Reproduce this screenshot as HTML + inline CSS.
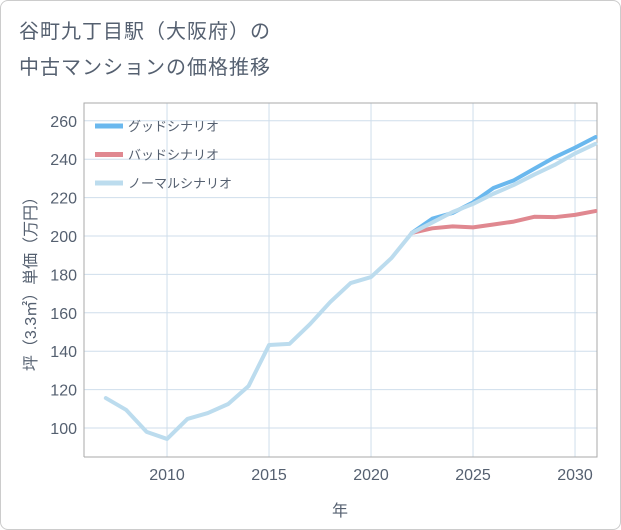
<!DOCTYPE html>
<html><head><meta charset="utf-8"><style>
body{margin:0;background:#fff;}
#wrap{position:relative;width:619px;height:528px;border:1px solid #ccc;border-radius:8px;background:#fff;font-family:"Liberation Sans","Noto Sans CJK JP",sans-serif;overflow:hidden}
.t{position:absolute;left:18px;color:#556070;font-size:20px;letter-spacing:1px}
</style></head><body>
<div id="wrap">
<div class="t" style="top:14px">谷町九丁目駅（大阪府）の</div>
<div class="t" style="top:50px">中古マンションの価格推移</div>
<svg id="svg" width="621" height="530" style="position:absolute;left:-1px;top:-1px"></svg>
</div>
<script>
const years=[2007,2008,2009,2010,2011,2012,2013,2014,2015,2016,2017,2018,2019,2020,2021,2022,2023,2024,2025,2026,2027,2028,2029,2030,2031];
const normal=[115.6,109.4,98,94.3,104.7,107.8,112.5,121.9,143.2,143.8,154,165.6,175.5,178.6,188.5,201.6,207,212.5,216.7,222,226.6,232,237,243,248];
const goodYears=[2022,2023,2024,2025,2026,2027,2028,2029,2030,2031];
const good=[201.6,209,212,217.5,225,229,235,241,246,251.5];
const bad=[201.6,204,205,204.5,206,207.5,210,209.8,211,213];
const xTicks=[2010,2015,2020,2025,2030];
const yTicks=[100,120,140,160,180,200,220,240,260];
const L=84,R=597,T=103,B=457;
const x=v=>L+(v-2005.93)*20.4;
const y=v=>428-(v-100)*1.92;
const svg=document.getElementById('svg');
const NS='http://www.w3.org/2000/svg';
const TC='#556070';
function mk(t,a,p){const e=document.createElementNS(NS,t);for(const k in a)e.setAttribute(k,a[k]);(p||svg).appendChild(e);return e;}
let g=mk('g',{});


xTicks.forEach(v=>{const l=mk('line',{x1:x(v),x2:x(v),y1:T,y2:B,stroke:'#cfdeeb','stroke-width':1},g);

const t=mk('text',{x:x(v),y:480,'text-anchor':'middle','font-size':16,fill:TC});t.textContent=v;
});
yTicks.forEach(v=>{const l=mk('line',{x1:L,x2:R,y1:y(v),y2:y(v),stroke:'#cfdeeb','stroke-width':1},g);

const t=mk('text',{x:77,y:y(v)+6,'text-anchor':'end','font-size':16,fill:TC});t.textContent=v;
});
let ax=mk('path',{d:`M${L},${B}V${T}H${R}V${B}H${L}`,fill:'none',stroke:'#aaa','stroke-width':1});

function line(xs,vs,c,n){const p=mk('path',{d:xs.map((v,i)=>(i?'L':'M')+x(v)+','+y(vs[i])).join(''),fill:'none',stroke:c,'stroke-width':4,'stroke-linejoin':'round','stroke-linecap':'round'});
}
line(goodYears,good,'#6ab8ee','good-scenario-line');
line(goodYears,bad,'#e08890','bad-scenario-line');
line(years,normal,'#bcdcee','normal-scenario-line');
const leg=[['グッドシナリオ','#6ab8ee'],['バッドシナリオ','#e08890'],['ノーマルシナリオ','#bcdcee']];
leg.forEach((d,i)=>{const yy=126+i*28.5;
const l=mk('line',{x1:95,x2:123,y1:yy,y2:yy,stroke:d[1],'stroke-width':5});

const t=mk('text',{x:128,y:yy+5,'font-size':13,fill:TC});t.textContent=d[0];
});
const xl=mk('text',{x:340,y:516,'text-anchor':'middle','font-size':16,fill:TC});xl.textContent='年';

const yl=mk('text',{x:0,y:0,'text-anchor':'middle','font-size':16,fill:TC,transform:'translate(36,280) rotate(-90)'});yl.textContent='坪（3.3㎡）単価（万円）';

</script>
</body></html>
